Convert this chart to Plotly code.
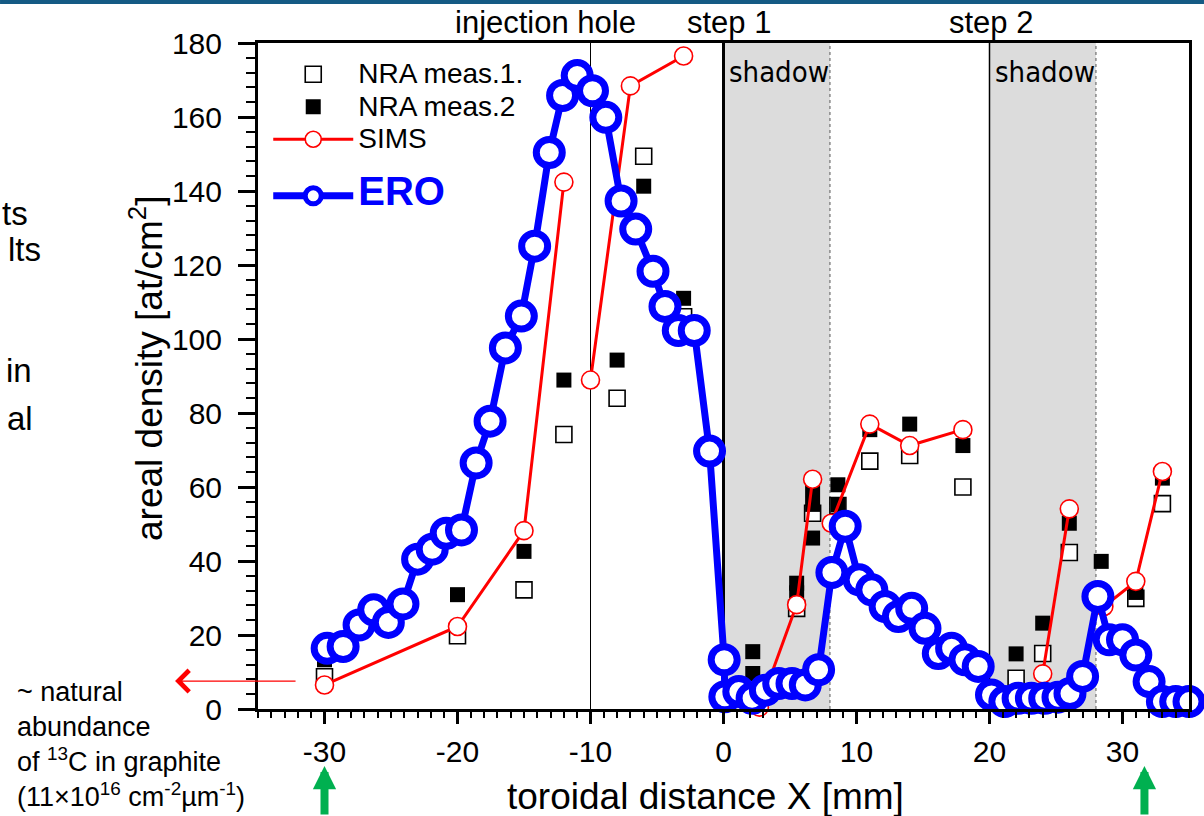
import plotly.graph_objects as go

# ---------------- data ----------------
ERO_X = [-29.8, -28.6, -27.4, -26.3, -25.2, -24.1, -23.0, -21.9, -20.85, -19.7,
         -18.6, -17.55, -16.4, -15.2, -14.2, -13.1, -12.1, -11.0, -9.85, -8.85,
         -7.7, -6.6, -5.3, -4.4, -3.4, -2.2, -1.05, 0.05, 0.1, 1.15,
         2.15, 3.15, 4.15, 5.15, 6.15, 7.15, 8.15, 9.15, 10.2, 11.15,
         12.15, 13.15, 14.15, 15.15, 16.15, 17.15, 18.15, 19.15, 20.15, 21.15,
         22.15, 23.15, 24.15, 25.15, 26.05, 27.0, 28.15, 29.0, 30.0, 31.0,
         32.0, 33.0, 34.0, 35.0]
ERO_Y = [16.4, 16.9, 22.7, 26.8, 23.4, 28.4, 40.5, 43.2, 47.5, 48.4,
         66.5, 77.8, 97.6, 106.2, 125.1, 150.4, 165.8, 171.2, 167.1, 159.9,
         137.3, 129.7, 118.3, 108.8, 102.3, 102.3, 69.7, 13.3, 3.3, 4.7,
         2.9, 5.1, 6.9, 6.9, 6.5, 10.6, 36.9, 49.4, 34.9, 32.2,
         27.7, 25.0, 27.2, 21.8, 15.0, 16.4, 13.3, 11.5, 3.8, 2.0,
         2.9, 2.9, 2.9, 3.2, 4.2, 8.8, 30.4, 18.7, 18.7, 14.6,
         7.4, 2.0, 2.0, 2.0]

SIMS_X = [-30, -20, -15, -12, None, -10, -7, -3, None, 2.7, 5.5, 6.7, None,
          8.1, 11, 14, 18, None, 24, 26, None, 28.6, 31, 33]
SIMS_Y = [6.5, 22.3, 48.2, 142.4, None, 88.9, 168.4, 176.5, None, 0.5, 28.2, 62.1, None,
          50.2, 77, 71.2, 75.5, None, 9.5, 54.1, None, 27.7, 34.5, 64.2]

NRA1_X = [-30, -20, -15, -12, -8, -6, -3, 5.5, 6.7, 8.6, 11, 14, 18, 22, 24, 26, 28.4, 31, 33]
NRA1_Y = [8.7, 19.8, 32.2, 74.2, 84, 149.4, 106, 27.2, 52.9, 55, 67, 68.5, 60, 8.3, 15, 42.3, 28, 29.9, 55.5]

NRA2_X = [-30, -20, -15, -12, -8, -6, -3, 2.2, 2.2, 5.5, 5.5, 6.7, 6.7, 6.7, 8.6, 8.6,
          11, 14, 18, 22, 24, 26, 28.4, 31, 33]
NRA2_Y = [13.3, 30.9, 42.6, 88.9, 94.3, 141.3, 111, 15.5, 9.6, 34, 31.4, 59.3, 55.3, 46.2, 60.6, 55.2,
          75.5, 77, 71.2, 14.9, 23.2, 50.2, 39.9, 31.5, 62.4]

X_TICKS = [-30, -20, -10, 0, 10, 20, 30]
X_TICK_LABELS = ["-30", "-20", "-10", "0", "10", "20", "30"]
Y_TICKS = [0, 20, 40, 60, 80, 100, 120, 140, 160, 180]

FONT = "Arial, Liberation Sans, sans-serif"
NARROW = "Liberation Sans Narrow, Arial Narrow, DejaVu Sans Condensed, sans-serif"


def leg(name, size=28):
    return "<span style='font-size:%dpx'>%s</span>" % (size, name)


fig = go.Figure()

fig.add_trace(go.Scatter(
    x=NRA1_X, y=NRA1_Y, mode="markers", name=leg("NRA meas.1."), legendgroup="meas",
    marker=dict(symbol="square", size=16, color="white", line=dict(color="black", width=1.6)),
    cliponaxis=False))
fig.add_trace(go.Scatter(
    x=NRA2_X, y=NRA2_Y, mode="markers", name=leg("NRA meas.2"), legendgroup="meas",
    marker=dict(symbol="square", size=15, color="black", line=dict(width=0)),
    cliponaxis=False))
fig.add_trace(go.Scatter(
    x=SIMS_X, y=SIMS_Y, mode="lines+markers", name=leg("SIMS"), legendgroup="meas",
    connectgaps=False,
    line=dict(color="#FF0000", width=3),
    marker=dict(symbol="circle", size=18, color="white", line=dict(color="#FF0000", width=1.6)),
    cliponaxis=False))
fig.add_trace(go.Scatter(
    x=ERO_X, y=ERO_Y, mode="lines+markers", legendgroup="ero",
    name="<b><span style='font-size:40px;color:#0000FF'>ERO</span></b>",
    line=dict(color="#0000FF", width=7),
    marker=dict(symbol="circle", size=26, color="white", line=dict(color="#0000FF", width=7)),
    cliponaxis=False))

shapes = [
    # slide header bar
    dict(type="rect", xref="paper", yref="paper", x0=-0.2771, x1=1.0161, y0=1.0586, y1=1.0646,
         fillcolor="#155a84", line=dict(width=0), layer="above"),
    # shadow regions
    dict(type="rect", xref="x", yref="y", x0=0, x1=8, y0=0, y1=180,
         fillcolor="#DCDCDC", line=dict(width=0), layer="below"),
    dict(type="rect", xref="x", yref="y", x0=20, x1=28, y0=0, y1=180,
         fillcolor="#DCDCDC", line=dict(width=0), layer="below"),
    dict(type="line", xref="x", yref="y", x0=8, x1=8, y0=0, y1=180,
         line=dict(color="#888888", width=1.5, dash="dot"), layer="below"),
    dict(type="line", xref="x", yref="y", x0=28, x1=28, y0=0, y1=180,
         line=dict(color="#888888", width=1.5, dash="dot"), layer="below"),
    dict(type="line", xref="x", yref="y", x0=-10, x1=-10, y0=0, y1=180,
         line=dict(color="black", width=1), layer="below"),
    dict(type="line", xref="x", yref="y", x0=0, x1=0, y0=0, y1=180,
         line=dict(color="black", width=3), layer="below"),
    dict(type="line", xref="x", yref="y", x0=20, x1=20, y0=0, y1=180,
         line=dict(color="black", width=1.5), layer="below"),
]

annotations = [
    dict(text="injection hole", x=-13.4, y=1.0315, xref="x", yref="paper", showarrow=False,
         font=dict(size=31, family=FONT), xanchor="center", yanchor="middle"),
    dict(text="step 1", x=0.45, y=1.0315, xref="x", yref="paper", showarrow=False,
         font=dict(size=31, family=FONT), xanchor="center", yanchor="middle"),
    dict(text="step 2", x=20.1, y=1.0315, xref="x", yref="paper", showarrow=False,
         font=dict(size=31, family=FONT), xanchor="center", yanchor="middle"),
    dict(text="shadow", x=0, y=0.956, xref="x", yref="paper", showarrow=False, xshift=3,
         font=dict(size=29, family=NARROW), xanchor="left", yanchor="middle"),
    dict(text="shadow", x=20, y=0.956, xref="x", yref="paper", showarrow=False, xshift=3,
         font=dict(size=29, family=NARROW), xanchor="left", yanchor="middle"),
    # axis titles
    dict(text="toroidal distance X [mm]", x=(705 - 258) / 931, y=(709 - 797) / 666,
         xref="paper", yref="paper", showarrow=False, xanchor="center", yanchor="middle",
         font=dict(size=37, family=FONT)),
    dict(text="areal density [at/cm<sup>2</sup>]", x=(146 - 258) / 931, y=(709 - 368) / 666,
         xref="paper", yref="paper", showarrow=False, xanchor="center", yanchor="middle",
         textangle=-90, font=dict(size=37, family=FONT)),
    dict(text="~ natural<br>abundance<br>of <sup>13</sup>C in graphite<br>(11×10<sup>16</sup> cm<sup>-2</sup>µm<sup>-1</sup>)",
         x=-0.261, y=(709 - 744) / 666, xref="paper", yref="paper", showarrow=False, align="left",
         font=dict(size=27, family=FONT), xanchor="left", yanchor="middle"),
    # red arrow to the natural abundance note
    dict(text="", x=-0.0891, y=0.042, xref="paper", yref="paper", showarrow=True,
         ax=122, ay=0, axref="pixel", ayref="pixel", arrowhead=4, arrowsize=3.2,
         arrowwidth=1.3, arrowcolor="#FF0000"),
    # green arrows
    dict(text="", x=-30, y=(709 - 766) / 666, xref="x", yref="paper", showarrow=True,
         ax=0, ay=70, arrowhead=2, arrowsize=0.58, arrowwidth=8, arrowcolor="#00B050"),
    dict(text="", x=31.65, y=(709 - 766) / 666, xref="x", yref="paper", showarrow=True,
         ax=0, ay=70, arrowhead=2, arrowsize=0.58, arrowwidth=8, arrowcolor="#00B050"),
]
# clipped slide text at the left edge
for txt, px, py in [("ts", 30, 213), ("lts", 43, 249), ("in", 34, 370), ("al", 35, 418)]:
    annotations.append(dict(text=txt, x=(px - 258) / 931, y=(709 - py) / 666,
                            xref="paper", yref="paper", showarrow=False,
                            xanchor="right", yanchor="middle",
                            font=dict(size=33, family=FONT)))

fig.update_layout(
    width=1204, height=816,
    margin=dict(l=258, r=15, t=43, b=107),
    paper_bgcolor="white", plot_bgcolor="white",
    font=dict(family=FONT, color="black", size=28),
    shapes=shapes, annotations=annotations,
    showlegend=True,
    legend=dict(x=0.011, y=(709 - 53) / 666, xanchor="left", yanchor="top",
                bgcolor="rgba(0,0,0,0)", font=dict(size=22.7, family=FONT, color="black"),
                itemwidth=80, tracegroupgap=24),
    xaxis=dict(range=[-35, 35], tickmode="array", tickvals=X_TICKS, ticktext=X_TICK_LABELS,
               showline=True, linewidth=3, linecolor="black", mirror=True,
               ticks="outside", ticklen=12, tickwidth=3, tickcolor="black",
               tickfont=dict(size=30), ticklabelstandoff=2, automargin=False,
               minor=dict(tickmode="linear", tick0=0, dtick=1, ticks="outside",
                          ticklen=6, tickwidth=2, tickcolor="black"),
               showgrid=False, zeroline=False),
    yaxis=dict(range=[0, 180], tickmode="array", tickvals=Y_TICKS,
               showline=True, linewidth=3, linecolor="black", mirror=True,
               ticks="outside", ticklen=17, tickwidth=3, tickcolor="black",
               tickfont=dict(size=30), ticklabelstandoff=10, automargin=False,
               minor=dict(tickmode="linear", tick0=0, dtick=4, ticks="outside",
                          ticklen=9, tickwidth=2, tickcolor="black"),
               showgrid=False, zeroline=False),
)

fig.write_html("out.html")
